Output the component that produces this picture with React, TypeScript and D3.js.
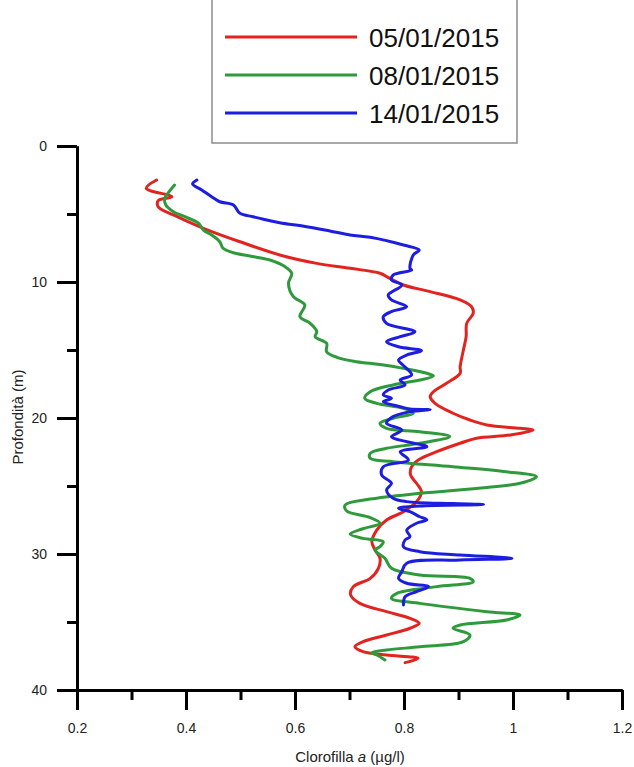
import React, { useRef, useEffect } from 'react';
import * as d3 from 'd3';

// [depth (m), chlorophyll a (µg/l)]
const profile0501: [number, number][] = [
  [2.5, 0.346], [3.11, 0.327], [3.73, 0.374], [4.02, 0.349], [4.46, 0.349], [5.07, 0.377],
  [6.05, 0.432], [7.04, 0.499], [8.01, 0.572], [8.63, 0.64], [8.99, 0.701], [9.36, 0.756],
  [9.73, 0.774], [10.22, 0.799], [10.71, 0.848], [11.32, 0.903], [11.82, 0.924], [12.3, 0.927],
  [13.04, 0.915], [14.02, 0.914], [15.0, 0.909], [16.23, 0.903], [16.71, 0.903], [17.45, 0.878],
  [18.07, 0.854], [18.43, 0.848], [18.92, 0.857], [19.65, 0.89], [20.15, 0.921], [20.51, 0.952],
  [20.76, 1.013], [20.88, 1.037], [21.25, 0.995], [21.49, 0.933], [21.86, 0.903], [22.48, 0.86],
  [23.09, 0.826], [23.58, 0.814], [24.19, 0.812], [24.8, 0.823], [25.42, 0.832], [26.15, 0.823],
  [26.89, 0.799], [27.5, 0.768], [28.24, 0.75], [29.1, 0.741], [29.71, 0.747], [30.32, 0.756],
  [31.05, 0.753], [31.79, 0.738], [32.4, 0.707], [33.01, 0.702], [33.63, 0.719], [34.24, 0.768],
  [34.73, 0.811], [35.1, 0.828], [35.46, 0.811], [35.96, 0.768], [36.45, 0.725], [36.82, 0.71],
  [37.18, 0.725], [37.43, 0.768], [37.67, 0.826], [37.99, 0.802],
];

const profile0801: [number, number][] = [
  [2.87, 0.379], [3.36, 0.369], [3.85, 0.361], [4.34, 0.363], [4.83, 0.377], [5.2, 0.398],
  [5.68, 0.423], [6.18, 0.432], [6.54, 0.447], [7.04, 0.462], [7.52, 0.468], [7.85, 0.487],
  [8.09, 0.517], [8.38, 0.554], [8.88, 0.582], [9.36, 0.594], [10.1, 0.588], [11.08, 0.597],
  [11.69, 0.618], [12.55, 0.609], [13.04, 0.628], [13.65, 0.64], [14.02, 0.637], [14.51, 0.658],
  [15.13, 0.658], [15.54, 0.677], [15.86, 0.713], [16.07, 0.756], [16.35, 0.799], [16.71, 0.842],
  [16.91, 0.854], [17.21, 0.829], [17.57, 0.78], [18.07, 0.738], [18.55, 0.728], [18.92, 0.75],
  [19.29, 0.799], [19.65, 0.817], [20.02, 0.78], [20.39, 0.756], [20.76, 0.768], [21.01, 0.829],
  [21.36, 0.884], [21.86, 0.829], [22.23, 0.768], [22.6, 0.738], [22.96, 0.738], [23.21, 0.78],
  [23.58, 0.89], [23.95, 0.988], [24.32, 1.043], [24.8, 1.013], [25.11, 0.952], [25.54, 0.829],
  [25.96, 0.738], [26.4, 0.692], [26.84, 0.695], [27.32, 0.738], [27.74, 0.756], [28.16, 0.723],
  [28.53, 0.701], [28.85, 0.725], [29.1, 0.762], [29.46, 0.756], [29.71, 0.747], [30.32, 0.765],
  [31.05, 0.777], [31.54, 0.829], [31.79, 0.921], [32.04, 0.927], [32.4, 0.86], [32.89, 0.787],
  [33.26, 0.777], [33.63, 0.829], [34.24, 0.952], [34.49, 1.013], [34.85, 0.988], [35.22, 0.903],
  [35.46, 0.89], [35.96, 0.921], [36.45, 0.909], [36.82, 0.829], [37.06, 0.768], [37.26, 0.741],
  [37.43, 0.75], [37.79, 0.765],
];

const profile1401: [number, number][] = [
  [2.5, 0.42], [2.79, 0.412], [3.24, 0.429], [3.73, 0.447], [4.1, 0.462], [4.34, 0.487],
  [4.95, 0.499], [5.2, 0.523], [5.39, 0.542], [5.64, 0.572], [5.93, 0.621], [6.25, 0.664],
  [6.54, 0.701], [6.71, 0.738], [7.28, 0.799], [7.65, 0.828], [8.01, 0.817], [8.99, 0.811],
  [9.12, 0.814], [9.49, 0.78], [9.85, 0.777], [10.22, 0.796], [10.96, 0.771], [11.32, 0.777],
  [11.82, 0.805], [12.18, 0.777], [12.55, 0.762], [13.04, 0.768], [13.65, 0.82], [14.02, 0.793],
  [14.39, 0.768], [14.76, 0.79], [15.05, 0.832], [15.37, 0.805], [15.74, 0.79], [16.25, 0.802],
  [16.84, 0.814], [17.21, 0.793], [17.57, 0.802], [17.94, 0.771], [18.31, 0.762], [18.55, 0.777],
  [18.8, 0.762], [19.17, 0.793], [19.34, 0.811], [19.38, 0.848], [19.54, 0.811], [19.9, 0.78],
  [20.39, 0.768], [20.88, 0.796], [21.38, 0.777], [21.74, 0.805], [22.11, 0.842], [22.48, 0.793],
  [23.09, 0.808], [23.58, 0.762], [24.19, 0.759], [24.8, 0.777], [25.29, 0.768], [25.9, 0.78],
  [26.15, 0.805], [26.29, 0.89], [26.36, 0.946], [26.47, 0.829], [26.64, 0.79], [26.89, 0.811],
  [27.26, 0.829], [27.5, 0.842], [27.74, 0.823], [28.24, 0.805], [28.73, 0.811], [28.97, 0.802],
  [29.46, 0.799], [29.83, 0.829], [30.07, 0.903], [30.32, 0.998], [30.44, 0.903], [30.68, 0.805],
  [31.3, 0.796], [31.79, 0.79], [32.15, 0.805], [32.4, 0.845], [32.77, 0.823], [33.14, 0.802],
  [33.75, 0.799],
];

const seriesNames = ['05/01/2015', '08/01/2015', '14/01/2015'];
const seriesColors = ['#e22420', '#2f9a3b', '#1d1ddf'];
const profiles = [profile0501, profile0801, profile1401];

const xMajorTicks = [0.2, 0.4, 0.6, 0.8, 1, 1.2];
const xMinorTicks = [0.3, 0.5, 0.7, 0.9, 1.1];
const yMajorTicks = [0, 10, 20, 30, 40];
const yMinorTicks = [5, 15, 25, 35];

const W = 634;
const H = 767;
const FONT = '"Liberation Sans", Arial, sans-serif';

const App = () => {
  const chartRef = useRef<SVGSVGElement>(null);

  useEffect(() => {
    const svg = d3.select(chartRef.current);
    svg.selectAll('*').remove();

    const x = d3.scaleLinear().domain([0.2, 1.2]).range([77, 622]);
    const y = d3.scaleLinear().domain([0, 40]).range([146, 690]);

    // legend box (top edge is cut off by the page)
    const legend = svg.append('g');
    legend
      .append('rect')
      .attr('x', 212)
      .attr('y', -10)
      .attr('width', 305)
      .attr('height', 153)
      .attr('fill', '#fff')
      .attr('stroke', '#8c8c8c')
      .attr('stroke-width', 1.5);
    seriesNames.forEach((name, i) => {
      const ly = 37 + i * 38;
      legend
        .append('line')
        .attr('x1', 225)
        .attr('x2', 357)
        .attr('y1', ly)
        .attr('y2', ly)
        .attr('stroke', seriesColors[i])
        .attr('stroke-width', 3);
      legend
        .append('text')
        .attr('x', 369)
        .attr('y', ly + 9.5)
        .style('font-family', FONT)
        .style('font-size', '26px')
        .attr('fill', '#111')
        .text(name);
    });

    // profiles
    const line = d3
      .line<[number, number]>()
      .x(d => x(d[1]))
      .y(d => y(d[0]))
      .curve(d3.curveCatmullRom.alpha(0.5));

    profiles.forEach((p, i) => {
      svg
        .append('path')
        .attr('d', line(p))
        .attr('fill', 'none')
        .attr('stroke', seriesColors[i])
        .attr('stroke-width', 3)
        .attr('stroke-linejoin', 'round')
        .attr('stroke-linecap', 'round');
    });

    const styleAxis = g => {
      g.selectAll('path').attr('stroke', '#000').attr('stroke-width', 3);
      g.selectAll('line').attr('stroke', '#000').attr('stroke-width', 3);
      g.selectAll('text')
        .style('font-family', FONT)
        .style('font-size', '14px')
        .attr('fill', '#222');
    };

    // minor ticks
    svg
      .append('g')
      .attr('transform', 'translate(0,690)')
      .call(d3.axisBottom(x).tickValues(xMinorTicks).tickSize(10).tickSizeOuter(0).tickFormat(() => ''))
      .call(styleAxis);
    svg
      .append('g')
      .attr('transform', 'translate(77,0)')
      .call(d3.axisLeft(y).tickValues(yMinorTicks).tickSize(10).tickSizeOuter(0).tickFormat(() => ''))
      .call(styleAxis);

    // major ticks
    svg
      .append('g')
      .attr('transform', 'translate(0,690)')
      .call(
        d3
          .axisBottom(x)
          .tickValues(xMajorTicks)
          .tickSize(20)
          .tickSizeOuter(0)
          .tickPadding(13)
          .tickFormat(d => String(d))
      )
      .call(styleAxis);
    svg
      .append('g')
      .attr('transform', 'translate(77,0)')
      .call(
        d3
          .axisLeft(y)
          .tickValues(yMajorTicks)
          .tickSize(20)
          .tickSizeOuter(0)
          .tickPadding(10)
          .tickFormat(d => String(d))
      )
      .call(styleAxis);

    // axis titles
    const xTitle = svg
      .append('text')
      .attr('x', 350)
      .attr('y', 762)
      .attr('text-anchor', 'middle')
      .style('font-family', FONT)
      .style('font-size', '15px')
      .attr('fill', '#222');
    xTitle.append('tspan').text('Clorofilla ');
    xTitle.append('tspan').style('font-style', 'italic').text('a');
    xTitle.append('tspan').text(' (µg/l)');

    svg
      .append('text')
      .attr('transform', 'translate(23,417) rotate(-90)')
      .attr('text-anchor', 'middle')
      .style('font-family', FONT)
      .style('font-size', '15px')
      .attr('fill', '#222')
      .text('Profondità (m)');
  }, []);

  return (
    <svg
      ref={chartRef}
      width={W}
      height={H}
      style={{ position: 'absolute', left: 0, top: 0, background: '#fff', display: 'block' }}
    />
  );
};

export default App;
